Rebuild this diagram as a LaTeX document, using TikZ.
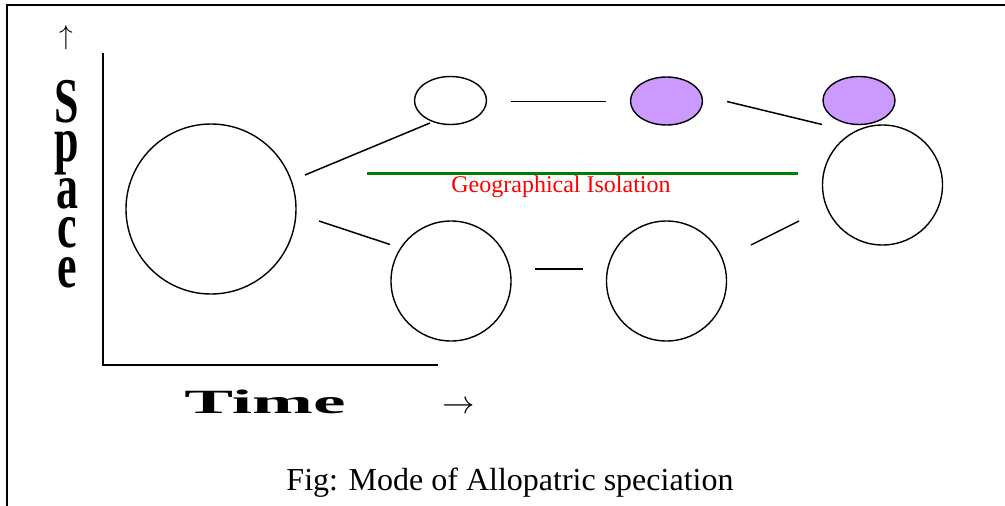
\documentclass[tikz,border=0pt]{standalone}
\usepackage{fontspec}
\setmainfont{Liberation Serif}
\usetikzlibrary{shapes.geometric}
\definecolor{lilac}{RGB}{204,153,255}
\definecolor{isogreen}{RGB}{0,128,0}
\newcommand\spacefont{\fontsize{44}{27}\selectfont\bfseries
  \lineskiplimit=-100pt\relax\lineskip=0pt\relax}
\tikzset{
  pop/.style={draw, circle, line width=1.4pt, inner sep=0pt},
  small/.style={draw, ellipse, line width=1.4pt, inner sep=0pt,
                minimum width=72pt, minimum height=48pt},
  newsp/.style={small, fill=lilac},
  link/.style={line width=1.5pt},
  axis/.style={line width=1.8pt},
  spacelabel/.style={inner sep=0pt, align=center, yscale=1.45, font=\spacefont},
  arrowlabel/.style={inner sep=0pt, anchor=base, font=\fontsize{24.88}{25}\selectfont},
}
\begin{document}
\begin{tikzpicture}[x=1pt, y=-1pt]
  \useasboundingbox (0,0) rectangle (1005,506);
  % frame
  \draw[line width=2pt] (1005,5) -- (7,5) -- (7,506);

  % axes
  \coordinate (origin) at (103,365);
  \coordinate (ytop) at (103,53);
  \coordinate (xend) at (438,365);
  \draw[axis] (ytop) -- (origin) -- (xend);

  % axis labels
  \node[arrowlabel, scale=1.1] (uparrow) at (66,45) {$\uparrow$};
  \node[spacelabel] (space) at (67,184.5) {S\\p\\[5.4pt]a\\c\\[0.6pt]e};
  \node[inner sep=0pt, anchor=base, xscale=2.15,
        font=\fontsize{34}{34}\selectfont\bfseries] (time) at (265,413) {Time};
  \node[arrowlabel, scale=1.3] (rarrow) at (459,413) {$\rightarrow$};

  % populations
  \node[pop, minimum size=170pt] (anc) at (211,209) {};
  \node[small] (t1) at (450.5,100.5) {};
  \node[newsp] (t2) at (666.5,101) {};
  \node[newsp] (t3) at (859,100.5) {};
  \node[pop, minimum size=120pt] (r) at (882.5,185) {};
  \node[pop, minimum size=120pt] (b1) at (451,281) {};
  \node[pop, minimum size=120pt] (b2) at (666.5,281) {};

  % lineage links
  \coordinate (a1) at (305,175);  \coordinate (a2) at (430,123);
  \coordinate (c1) at (511,101.5); \coordinate (c2) at (606,101.5);
  \coordinate (d1) at (727,101.5); \coordinate (d2) at (822,124.5);
  \coordinate (e1) at (319,221);  \coordinate (e2) at (390,244.5);
  \coordinate (f1) at (535,269);  \coordinate (f2) at (583,269);
  \coordinate (g1) at (751,245);  \coordinate (g2) at (799,221);
  \draw[link] (a1) -- (a2);
  \draw[link] (c1) -- (c2);
  \draw[link] (d1) -- (d2);
  \draw[link] (e1) -- (e2);
  \draw[link] (f1) -- (f2);
  \draw[link] (g1) -- (g2);

  % barrier
  \coordinate (gl) at (367,173.5);
  \coordinate (gr) at (798,173.5);
  \draw[isogreen, line width=3.5pt] (gl) -- (gr);
  \node[inner sep=0pt, anchor=base, text=red,
        font=\fontsize{24}{24}\selectfont] (iso) at (561,192) {Geographical Isolation};

  % caption
  \node[inner sep=0pt, anchor=base, font=\fontsize{32}{32}\selectfont] (cap) at (510,490)
    {Fig: Mode of Allopatric speciation};
\end{tikzpicture}
\end{document}
